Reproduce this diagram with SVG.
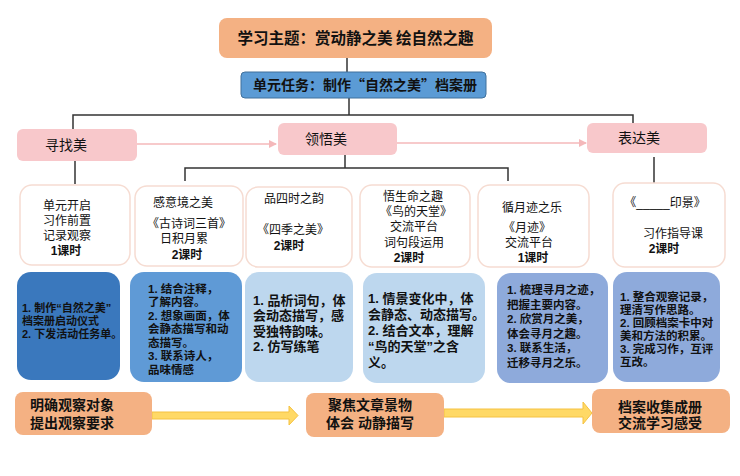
<svg xmlns="http://www.w3.org/2000/svg" width="740" height="476" viewBox="0 0 740 476">
<defs>
<style>
text{font-family:"Liberation Sans","Noto Sans CJK SC",sans-serif;fill:#111;}
.cjk{font-family:"Noto Sans CJK SC",sans-serif;}
.t12{font-size:12px;}
.t115{font-size:11.5px;}
.mid{text-anchor:middle;}
.b{font-weight:bold;}
.card{fill:#fff;stroke:#f6dcd2;stroke-width:1.5;}
.pink{fill:#f8c8cb;}
.orange{fill:#f4b183;}
.ln{stroke:#333;stroke-width:1.5;fill:none;}
.pl{stroke:#f4b8ba;stroke-width:1.5;fill:none;}
.ya{fill:#ffd966;stroke:#f5c242;stroke-width:1;}
</style>
<marker id="pa" markerWidth="8" markerHeight="8" refX="7" refY="4" orient="auto" markerUnits="userSpaceOnUse">
<path d="M0,0 L8,4 L0,8 z" fill="#f4b8ba"/>
</marker>
</defs>
<rect width="740" height="476" fill="#fff"/>

<g id="connectors">
<line class="ln" x1="347" y1="58" x2="347" y2="72"/>
<polyline class="ln" points="349,98 349,115"/>
<polyline class="ln" points="73,129 73,115 633,115 633,123"/>
<line class="ln" x1="75" y1="161" x2="75" y2="184"/>
<polyline class="ln" points="185,181 185,168 508,168 508,181"/>
<line class="ln" x1="345" y1="155" x2="345" y2="168"/>
<line class="ln" x1="654" y1="157" x2="654" y2="183"/>
<line class="pl" x1="137" y1="144" x2="276" y2="144" marker-end="url(#pa)"/>
<line class="pl" x1="397" y1="143" x2="586" y2="143" marker-end="url(#pa)"/>
<path class="ya" d="M152,412 L289,412 L289,406 L298,415.5 L289,425 L289,419 L152,419 Z"/>
<path class="ya" d="M444,409 L583,409 L583,402 L592,413 L583,424 L583,417 L444,417 Z"/>
</g>

<g id="theme">
<rect class="orange" x="219" y="18" width="273" height="40" rx="8"/>
<text class="b mid cjk" x="355.5" y="43.5" font-size="15.5">学习主题：赏动静之美  绘自然之趣</text>
</g>

<g id="task">
<rect x="241" y="72" width="245" height="26" rx="4" fill="#5b9bd5" stroke="#41719c" stroke-width="1"/>
<text class="b mid cjk" x="365" y="90" font-size="14">单元任务：制作“自然之美”档案册</text>
</g>

<g id="xunzhao">
<rect class="pink" x="17" y="129" width="120" height="32" rx="6"/>
<text class="mid" x="66" y="150" font-size="14">寻找美</text>
</g>
<g id="lingwu">
<rect class="pink" x="278" y="123" width="119" height="32" rx="6"/>
<text class="mid" x="326" y="144" font-size="14">领悟美</text>
</g>
<g id="biaoda">
<rect class="pink" x="587" y="123" width="120" height="30" rx="6"/>
<text class="mid" x="639" y="143" font-size="14">表达美</text>
</g>

<g id="card1">
<rect class="card" x="20" y="185" width="110" height="80" rx="12"/>
<text class="t12 mid"><tspan x="67" y="209.5">单元开启</tspan><tspan x="67" y="224.5">习作前置</tspan><tspan x="67" y="239.5">记录观察</tspan><tspan x="66" y="254.5" class="b">1课时</tspan></text>
</g>
<g id="card2">
<rect class="card" x="135" y="186" width="108" height="80" rx="12"/>
<text class="t12 mid"><tspan x="183" y="206.5">感意境之美</tspan><tspan x="189" y="227.5">《古诗词三首》</tspan><tspan x="184" y="242.5">日积月累</tspan><tspan x="187" y="258.5" class="b">2课时</tspan></text>
</g>
<g id="card3">
<rect class="card" x="246" y="187" width="106" height="80" rx="12"/>
<text class="t12 mid"><tspan x="294" y="202.5">品四时之韵</tspan><tspan x="293" y="233.5">《四季之美》</tspan><tspan x="289" y="249.5" class="b">2课时</tspan></text>
</g>
<g id="card4">
<rect class="card" x="360" y="185" width="110" height="82" rx="12"/>
<text class="t12 mid"><tspan x="413" y="200.5">悟生命之趣</tspan><tspan x="416" y="215.5">《鸟的天堂》</tspan><tspan x="414" y="231">交流平台</tspan><tspan x="414" y="246.5">词句段运用</tspan><tspan x="409" y="262" class="b">2课时</tspan></text>
</g>
<g id="card5">
<rect class="card" x="478" y="185" width="111" height="82" rx="12"/>
<text class="t12 mid"><tspan x="532" y="211.5">循月迹之乐</tspan><tspan x="527" y="232">《月迹》</tspan><tspan x="529" y="246.5">交流平台</tspan><tspan x="533" y="261.5" class="b">1课时</tspan></text>
</g>
<g id="card6">
<rect class="card" x="613" y="183" width="112" height="84" rx="12"/>
<text class="t12 mid"><tspan x="665" y="206.5">《_____印景》</tspan><tspan x="673" y="238">习作指导课</tspan><tspan x="664" y="252.5" class="b">2课时</tspan></text>
</g>

<g id="task1">
<rect x="17" y="272" width="103" height="108" rx="14" fill="#3a78bd"/>
<text font-size="11" class="b"><tspan x="22" y="312">1. 制作“自然之美”</tspan><tspan x="22" y="325">档案册启动仪式</tspan><tspan x="22" y="338">2. 下发活动任务单。</tspan></text>
</g>
<g id="task2">
<rect x="130" y="272" width="112" height="110" rx="14" fill="#5f9ad6"/>
<text class="t115 b"><tspan x="148" y="292.5">1. 结合注释，</tspan><tspan x="148" y="306">了解内容。</tspan><tspan x="148" y="319.5">2. 想象画面，体</tspan><tspan x="148" y="333">会静态描写和动</tspan><tspan x="148" y="346.5">态描写。</tspan><tspan x="148" y="360">3. 联系诗人，</tspan><tspan x="148" y="373.5">品味情感</tspan></text>
</g>
<g id="task3">
<rect x="245" y="272" width="108" height="110" rx="14" fill="#bdd7ee"/>
<text font-size="13" class="b"><tspan x="253" y="304.5">1. 品析词句，体</tspan><tspan x="253" y="320">会动态描写，感</tspan><tspan x="253" y="335.5">受独特韵味。</tspan><tspan x="253" y="351">2. 仿写练笔</tspan></text>
</g>
<g id="task4">
<rect x="363" y="273" width="122" height="110" rx="14" fill="#bdd7ee"/>
<text font-size="13" class="b"><tspan x="368" y="302.5">1. 情景变化中，体</tspan><tspan x="368" y="318.5">会静态、动态描写。</tspan><tspan x="368" y="334.5">2. 结合文本，理解</tspan><tspan x="368" y="350.5">“鸟的天堂”之含</tspan><tspan x="368" y="366.5">义。</tspan></text>
</g>
<g id="task5">
<rect x="497" y="273" width="111" height="110" rx="14" fill="#8eaadb"/>
<text class="t115 b"><tspan x="507" y="294">1. 梳理寻月之迹，</tspan><tspan x="507" y="308.5">把握主要内容。</tspan><tspan x="507" y="323">2. 欣赏月之美，</tspan><tspan x="507" y="337.5">体会寻月之趣。</tspan><tspan x="507" y="352">3. 联系生活，</tspan><tspan x="507" y="366.5">迁移寻月之乐。</tspan></text>
</g>
<g id="task6">
<rect x="613" y="272" width="107" height="110" rx="14" fill="#8eaadb"/>
<text class="t115 b"><tspan x="620" y="301">1. 整合观察记录，</tspan><tspan x="620" y="314">理清写作思路。</tspan><tspan x="620" y="327">2. 回顾档案卡中对</tspan><tspan x="620" y="340">美和方法的积累。</tspan><tspan x="620" y="353">3. 完成习作，互评</tspan><tspan x="620" y="366">互改。</tspan></text>
</g>

<g id="step1">
<rect class="orange" x="15" y="392" width="137" height="43" rx="8"/>
<text font-size="14" class="b"><tspan x="30" y="410">明确观察对象</tspan><tspan x="30" y="428">提出观察要求</tspan></text>
</g>
<g id="step2">
<rect class="orange" x="306" y="393" width="138" height="44" rx="8"/>
<text class="mid b" font-size="14"><tspan x="370" y="410">聚焦文章景物</tspan><tspan x="370" y="428">体会 动静描写</tspan></text>
</g>
<g id="step3">
<rect class="orange" x="592" y="389" width="138" height="44" rx="8"/>
<text class="mid b" font-size="14"><tspan x="660" y="412">档案收集成册</tspan><tspan x="660" y="428">交流学习感受</tspan></text>
</g>
</svg>
